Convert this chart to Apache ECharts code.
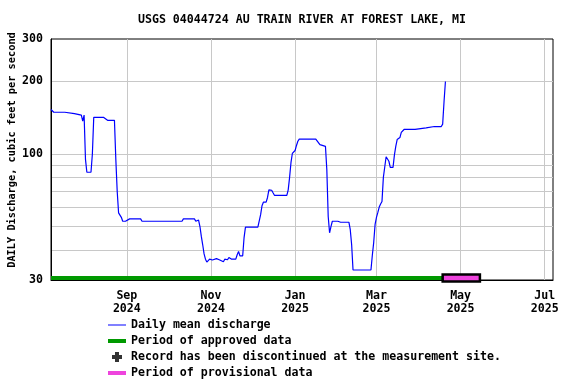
<!DOCTYPE html>
<html>
<head>
<meta charset="utf-8">
<script src="https://cdn.jsdelivr.net/npm/echarts@6/dist/echarts.min.js"></script>
<style>
html,body{margin:0;padding:0;background:#fff;}
#chart{width:576px;height:384px;}
</style>
</head>
<body>
<div id="chart"></div>
<script>
// ---- data ----
const titleText = 'USGS 04044724 AU TRAIN RIVER AT FOREST LAKE, MI';
const yAxisTitle = 'DAILY Discharge, cubic feet per second';
const dates = [
'2024-07-08','2024-07-10','2024-07-18','2024-07-19','2024-07-25','2024-07-26','2024-07-30','2024-07-31',
'2024-08-01','2024-08-02','2024-08-03','2024-08-06','2024-08-07','2024-08-08','2024-08-15','2024-08-16',
'2024-08-18','2024-08-23','2024-08-24','2024-08-25','2024-08-26','2024-08-27','2024-08-28','2024-08-29',
'2024-08-31','2024-09-01','2024-09-03','2024-09-11','2024-09-12','2024-10-05','2024-10-06','2024-10-07',
'2024-10-11','2024-10-12','2024-10-20','2024-10-21','2024-10-23','2024-10-24','2024-10-25','2024-10-26',
'2024-10-27','2024-10-28','2024-10-29','2024-10-31','2024-11-02','2024-11-05','2024-11-07','2024-11-08',
'2024-11-10','2024-11-11','2024-11-12','2024-11-13','2024-11-14','2024-11-16','2024-11-19','2024-11-20',
'2024-11-21','2024-11-22','2024-11-24','2024-11-25','2024-11-26','2024-12-05','2024-12-06','2024-12-07',
'2024-12-08','2024-12-09','2024-12-11','2024-12-12','2024-12-13','2024-12-14','2024-12-15','2024-12-16',
'2024-12-17','2024-12-26','2024-12-27','2024-12-28','2024-12-29','2024-12-30','2024-12-31','2025-01-01',
'2025-01-02','2025-01-03','2025-01-04','2025-01-16','2025-01-17','2025-01-19','2025-01-20','2025-01-23',
'2025-01-24','2025-01-25','2025-01-26','2025-01-27','2025-01-28','2025-02-01','2025-02-02','2025-02-03',
'2025-02-09','2025-02-10','2025-02-11','2025-02-12','2025-02-25','2025-02-26','2025-02-27','2025-02-28',
'2025-03-01','2025-03-02','2025-03-03','2025-03-04','2025-03-05','2025-03-06','2025-03-07','2025-03-08',
'2025-03-09','2025-03-10','2025-03-11','2025-03-13','2025-03-14','2025-03-15','2025-03-16','2025-03-17',
'2025-03-18','2025-03-19','2025-03-20','2025-03-21','2025-03-29','2025-03-30','2025-04-06','2025-04-07',
'2025-04-12','2025-04-13','2025-04-17','2025-04-18','2025-04-19','2025-04-20'
];
const discharge = [
153,149,149,147,147,146,145,137,
145,95,84,84,100,142,142,140,
138,138,95,70,57,58,54.6,52.6,
52.6,53.1,53.8,53.8,52.6,52.6,53.2,52.6,
52.6,53.8,53.8,52.6,53.2,50,45.5,42,
38.5,36.6,35.6,36.6,36.3,36.8,36.4,36.3,
35.7,36.6,36.8,36.4,37.2,36.6,36.6,38.2,
39.4,37.8,37.8,45,49.7,49.7,50.6,56,
61,63.1,63.1,66,71,71.8,70.7,69,
67.4,67.4,71,80,92,100.5,101,103.4,
108.5,112.9,115.2,115.2,113.5,109.3,107.6,107.6,
86,55,47.1,50,52.6,52.6,52.3,52.1,
52.1,48.5,42,33,33,38,43,51,
54.6,57.2,60.2,62,63.5,80,88.3,97.4,
96.5,93.3,88,88,98.9,107.6,114.8,116.5,
117,123,125,126.4,126.4,128.4,128.4,130,
130,129.5,130,133,165,200
];
const approvedPeriod = ['2024-07-08', '2025-04-18'];
const provisionalPeriod = ['2025-04-18', '2025-05-15'];
const xRange = ['2024-07-08', '2025-07-07'];
const xTickDates = ['2024-09-01','2024-11-01','2025-01-01','2025-03-01','2025-05-01','2025-07-01'];
const xTickLabels = ['Sep\n2024','Nov\n2024','Jan\n2025','Mar\n2025','May\n2025','Jul\n2025'];
const yRange = [30, 300];
const yLabelValues = [30, 100, 200, 300];
const yGridValues = [40, 50, 60, 70, 80, 90, 100, 200];
const legendNames = ['Daily mean discharge', 'Period of approved data',
  'Record has been discontinued at the measurement site.', 'Period of provisional data'];

// ---- style constants ----
const FONT = 'DejaVu Sans Mono';
const FS = 11.6;
const barLevel = 30.6; // vertical level of the period bars (just above axis bottom)

const ts = d => echarts.time.parse(d).getTime();
const tickTs = xTickDates.map(ts);

function xLabel(val) {
  let best = 0, bd = Infinity;
  tickTs.forEach((t, i) => { const dd = Math.abs(t - val); if (dd < bd) { bd = dd; best = i; } });
  return xTickLabels[best];
}

const chart = echarts.init(document.getElementById('chart'), null, {renderer: 'canvas'});

const option = {
  animation: false,
  backgroundColor: '#fff',
  title: {
    text: titleText,
    left: 297, top: 9, textAlign: 'center',
    textStyle: {fontFamily: FONT, fontSize: FS, fontWeight: 'bold', color: '#000'}
  },
  graphic: [{
    type: 'text', x: 12, y: 150, rotation: Math.PI / 2,
    style: {text: yAxisTitle, font: 'bold 10.3px ' + FONT, fill: '#000',
      align: 'center', verticalAlign: 'middle'}
  }],
  grid: {left: 51, right: 23, top: 39, bottom: 104, show: true, borderColor: '#000', borderWidth: 1, containLabel: false},
  legend: {
    orient: 'vertical', left: 108, top: 317, padding: 0, height: 67,
    itemWidth: 18, itemHeight: 10, itemGap: 0,
    selectedMode: false,
    textStyle: {fontFamily: FONT, fontSize: FS, fontWeight: 'bold', color: '#000', lineHeight: 16},
    data: [
      {name: legendNames[0], icon: 'path://M0,0 H18 V1 H0 Z', itemStyle: {color: '#0000ff'}},
      {name: legendNames[1], icon: 'path://M0,0 H18 V4 H0 Z', itemStyle: {color: '#009900'}},
      {name: legendNames[2], icon: 'path://M3,0 H7 V3 H10 V7 H7 V10 H3 V7 H0 V3 H3 Z', itemStyle: {color: '#000'}},
      {name: legendNames[3], icon: 'path://M0,0 H18 V4 H0 Z', itemStyle: {color: '#ee44dd'}}
    ]
  },
  xAxis: {
    type: 'value',
    min: ts(xRange[0]), max: ts(xRange[1]),
    axisLine: {show: true, lineStyle: {color: '#000', width: 1}},
    axisTick: {show: false, customValues: tickTs},
    splitLine: {show: true, lineStyle: {color: '#c8c8c8', width: 1}},
    axisLabel: {
      customValues: tickTs,
      formatter: xLabel,
      fontFamily: FONT, fontSize: FS, fontWeight: 'bold', color: '#000',
      lineHeight: 13, margin: 9, hideOverlap: false
    }
  },
  yAxis: {
    type: 'log', logBase: 10,
    min: yRange[0], max: yRange[1],
    axisLine: {show: true, lineStyle: {color: '#000', width: 1}},
    axisTick: {show: false, customValues: yGridValues},
    splitLine: {show: true, lineStyle: {color: '#c8c8c8', width: 1}},
    axisLabel: {
      customValues: yLabelValues,
      fontFamily: FONT, fontSize: FS, fontWeight: 'bold', color: '#000', margin: 8
    }
  },
  series: [
    {
      name: legendNames[0], type: 'line',
      data: dates.map((d, i) => [ts(d), discharge[i]]),
      showSymbol: false, symbol: 'none',
      lineStyle: {color: '#0000ff', width: 1.2},
      itemStyle: {color: '#0000ff'},
      z: 3
    },
    {
      name: legendNames[1], type: 'line',
      data: approvedPeriod.map(d => [ts(d), barLevel]),
      showSymbol: false, symbol: 'none', clip: false,
      lineStyle: {color: '#009900', width: 4},
      itemStyle: {color: '#009900'},
      z: 4
    },
    {
      name: legendNames[2], type: 'scatter', data: [],
      itemStyle: {color: '#000'}
    },
    {
      name: legendNames[3], type: 'custom',
      clip: false,
      itemStyle: {color: '#ee44dd'},
      data: [[ts(provisionalPeriod[0]), ts(provisionalPeriod[1]), barLevel]],
      renderItem: function (params, api) {
        const p0 = api.coord([api.value(0), api.value(2)]);
        const p1 = api.coord([api.value(1), api.value(2)]);
        const h = 7;
        return {
          type: 'rect',
          shape: {x: p0[0], y: p0[1] - h / 2, width: p1[0] - p0[0], height: h},
          style: {fill: '#ee44dd', stroke: '#000', lineWidth: 2.5}
        };
      },
      encode: {x: [0, 1], y: 2},
      z: 5
    }
  ]
};
chart.setOption(option);
</script>
</body>
</html>
